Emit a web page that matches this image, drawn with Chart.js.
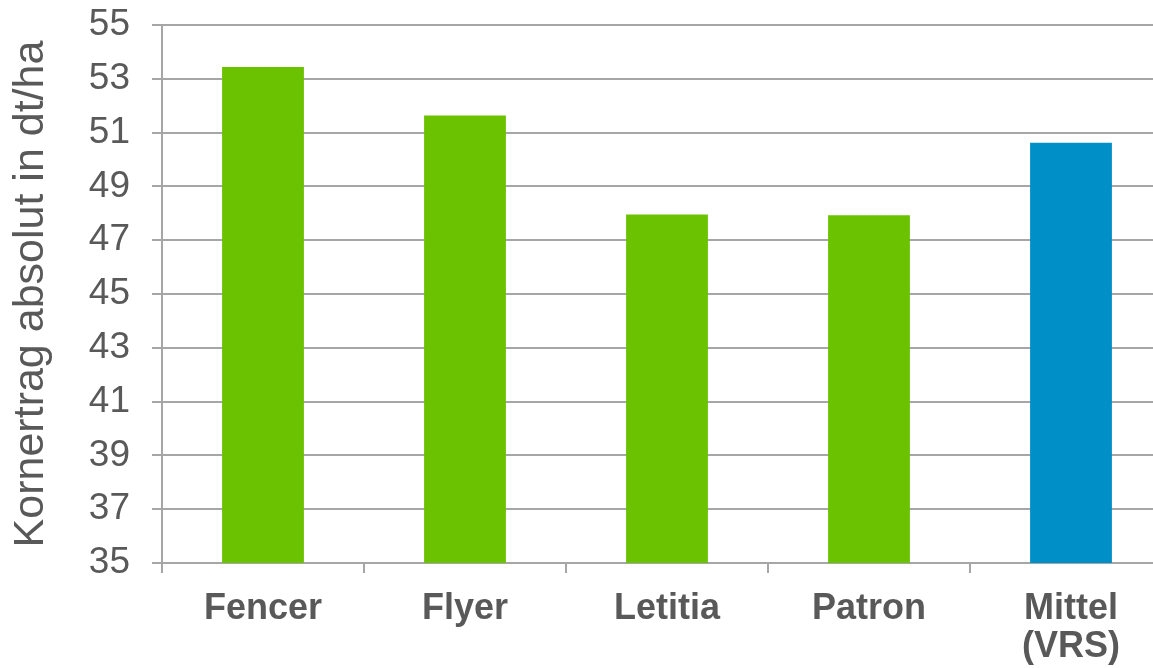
<!DOCTYPE html>
<html>
<head>
<meta charset="utf-8">
<script src="https://cdn.jsdelivr.net/npm/chart.js@4"></script>
<style>
  html, body { margin: 0; padding: 0; background: #fff; overflow: hidden; }
  #wrap { width: 1174px; height: 668px; }
</style>
</head>
<body>
<div id="wrap"><canvas id="yieldChart"></canvas></div>
<script>
// values
const sorten = ['Fencer', 'Flyer', 'Letitia', 'Patron', ['Mittel', '(VRS)']];
const ertrag = [53.44, 51.64, 47.96, 47.93, 50.62];
const barColors = ['#6bc200', '#6bc200', '#6bc200', '#6bc200', '#008fc6'];
const yTicks = [35, 37, 39, 41, 43, 45, 47, 49, 51, 53, 55];

const gridGray = '#a6a6a6';
const textGray = '#595959';
const fontFam = 'Liberation Sans, Arial, sans-serif';

new Chart('yieldChart', {
  type: 'bar',
  data: {
    labels: sorten,
    datasets: [{
      data: ertrag,
      backgroundColor: barColors,
      barPercentage: 0.405,
      categoryPercentage: 1.0
    }]
  },
  options: {
    responsive: true,
    maintainAspectRatio: false,
    animation: false,
    layout: { padding: { top: 25, right: 2, left: 0, bottom: 0 } },
    plugins: { legend: { display: false }, tooltip: { enabled: false } },
    scales: {
      x: {
        grid: { display: true, offset: true, drawOnChartArea: false, color: gridGray, lineWidth: 2, tickLength: 10 },
        border: { color: gridGray, width: 2 },
        ticks: {
          color: textGray,
          padding: 17,
          maxRotation: 0,
          font: { family: fontFam, size: 36, weight: 'bold', lineHeight: 1.06 }
        },
        afterFit: scale => {
          scale.height = 105;
          scale.paddingLeft = 0;
          scale.paddingRight = 0;
        }
      },
      y: {
        min: 35,
        max: 55,
        afterBuildTicks: axis => { axis.ticks = yTicks.map(v => ({ value: v })); },
        grid: { color: gridGray, lineWidth: 2, tickLength: 10 },
        border: { color: gridGray, width: 2 },
        ticks: {
          color: textGray,
          padding: 22,
          font: { family: fontFam, size: 37 }
        },
        title: {
          display: true,
          text: 'Kornertrag absolut in dt/ha',
          color: textGray,
          padding: { top: 5, bottom: 0 },
          font: { family: fontFam, size: 43 }
        },
        afterFit: scale => {
          scale.width = 162;
          scale.paddingTop = 0;
          scale.paddingBottom = 0;
        }
      }
    }
  }
});
</script>
</body>
</html>
